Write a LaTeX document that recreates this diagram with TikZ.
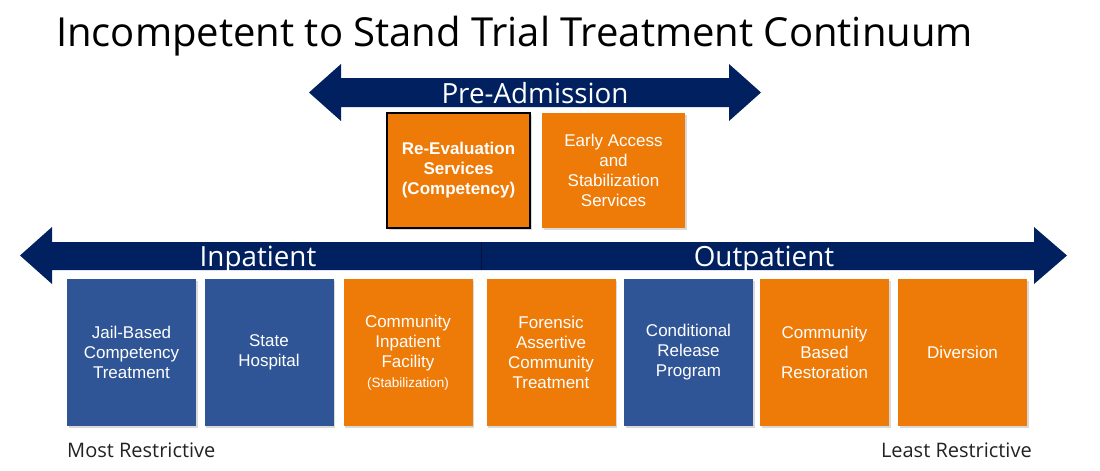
\documentclass[tikz,border=0pt]{standalone}
\usepackage{fontspec}
\setmainfont{Liberation Sans}
\newfontfamily\headfont{Open Sans}
\usetikzlibrary{shadows}

\definecolor{navy}{HTML}{002060}
\definecolor{navyline}{HTML}{00143F}
\definecolor{stateblue}{HTML}{2F5597}
\definecolor{commorange}{HTML}{EE7A08}
\definecolor{sidetext}{HTML}{222222}

\tikzset{
  stage/.style={text=white, minimum width=129pt, minimum height=147pt,
    align=center, inner sep=2pt, font=\fontsize{17}{20}\selectfont,
    drop shadow={opacity=0.3, shadow xshift=1.5pt, shadow yshift=-1.5pt}},
  instage/.style={stage, fill=stateblue},
  outstage/.style={stage, fill=commorange},
  prestage/.style={outstage, minimum width=143pt, minimum height=115pt},
  band/.style={fill=navy},
  bandlabel/.style={text=white, inner sep=0pt, anchor=base,
    font=\headfont\fontsize{27.8}{30}\selectfont},
  endlabel/.style={text=sidetext, inner sep=0pt,
    font=\headfont\fontsize{20}{24}\selectfont}
}

\begin{document}
\begin{tikzpicture}[x=1pt, y=-1pt]
   \useasboundingbox (0,0) rectangle (1100,471);

   \node[anchor=base west, inner sep=0pt, font=\headfont\fontsize{40}{48}\selectfont]
      (title) at (56,46) {Incompetent to Stand Trial Treatment Continuum};

   % pre-admission band
   \fill[band] (309,92.5) -- (341,64) -- (341,78) -- (729,78) -- (729,64)
      -- (761,92.5) -- (729,121) -- (729,107) -- (341,107) -- (341,121) -- cycle;
   \node[bandlabel] (preadm) at (535,103) {Pre-Admission};

   \node[prestage, draw=black, line width=1.5pt, font=\bfseries\fontsize{17}{20}\selectfont]
      (reeval) at (458.5,170.5) {Re-Evaluation\\Services\\(Competency)};
   \node[prestage] (early) at (613.5,170.5) {Early Access\\and\\Stabilization\\Services};

   % inpatient / outpatient band
   \fill[band] (20,255.5) -- (52,227) -- (52,242) -- (481,242) -- (481,270)
      -- (52,270) -- (52,284) -- cycle;
   \fill[band] (481,242) -- (1034,242) -- (1034,227) -- (1067,255.5)
      -- (1034,284) -- (1034,270) -- (481,270) -- cycle;
   \draw[navyline, line width=0.8pt] (481,242) -- (481,270);
   \node[bandlabel] (inpat) at (258,266) {Inpatient};
   \node[bandlabel] (outpat) at (764,266) {Outpatient};

   \node[instage] (jail) at (131.5,352.5) {Jail-Based\\Competency\\Treatment};
   \node[instage] (hosp) at (269,352.5) {State\\Hospital};
   \node[outstage] (cif) at (408,352.5)
      {Community\\Inpatient\\Facility\\{\fontsize{13.5}{17}\selectfont(Stabilization)}};
   \node[outstage] (fact) at (551,352.5) {Forensic\\Assertive\\Community\\Treatment};
   \node[instage] (condrel) at (688.5,352.5) {Conditional\\Release\\Program};
   \node[outstage] (cbr) at (824.5,352.5) {Community\\Based\\Restoration};
   \node[outstage] (divert) at (962.5,352.5) {Diversion};

   \node[endlabel, anchor=base west] (most) at (67,457) {Most Restrictive};
   \node[endlabel, anchor=base east] (least) at (1032,457) {Least Restrictive};
\end{tikzpicture}
\end{document}
